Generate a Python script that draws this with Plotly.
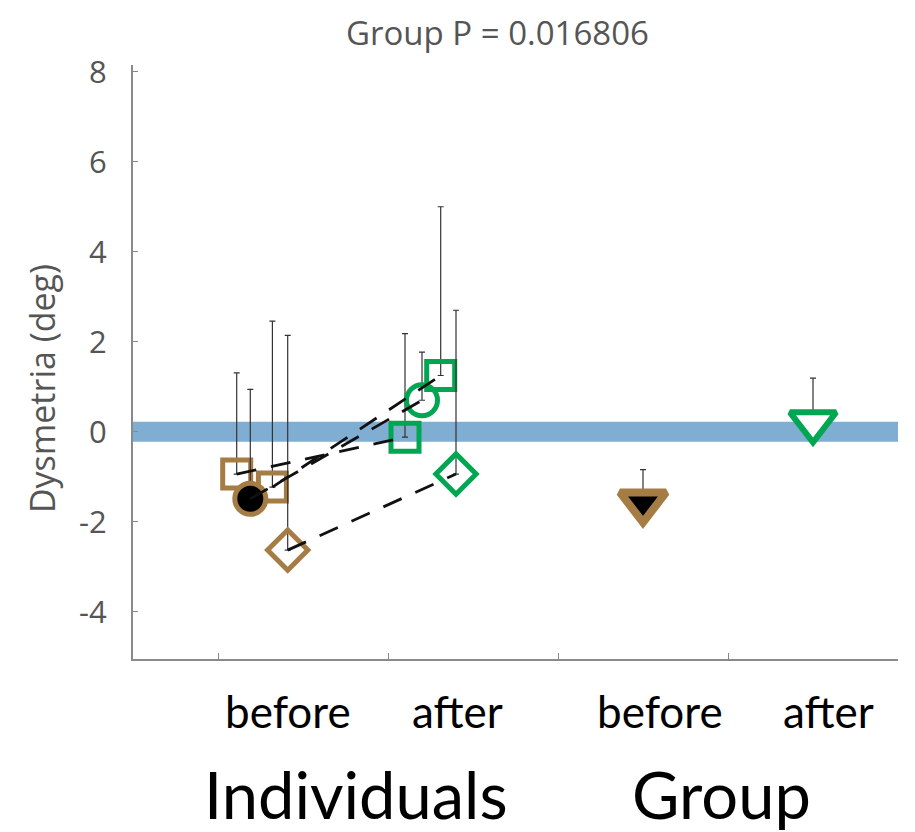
import plotly.graph_objects as go

# ---- data ----
subjects = ["S1", "S2", "S3", "S4"]
symbols = ["square", "circle", "square", "diamond"]
before_x = [0.61, 0.69, 0.82, 0.91]
before_y = [-0.94, -1.49, -1.23, -2.63]
before_err = [2.25, 2.43, 3.69, 4.77]
after_x = [1.60, 1.70, 1.81, 1.90]
after_y = [-0.12, 0.70, 1.25, -0.94]
after_err = [2.30, 1.07, 3.75, 3.64]
group_x = [3.0, 4.0]
group_y = [-1.57, 0.21]
group_err = [0.73, 0.98]
x_ticks = [0.5, 1.5, 2.5, 3.5]
y_ticks = [-4, -2, 0, 2, 4, 6, 8]
y_tick_labels = ["-4", "-2", "0", "2", "4", "6", "8"]
cond_labels = ["before", "after", "before", "after"]
cond_label_x = [0.91, 1.906, 3.10, 4.09]
section_labels = ["Individuals", "Group"]
section_label_x = [1.31, 3.46]
title_text = "Group P = 0.016806"

BROWN = "#A67C45"
GREEN = "#00A651"
BAND = "#80ADD2"
ERR = "#333333"
CLEAR = "rgba(0,0,0,0)"

sizes = {"square": 28, "circle": 31, "diamond": 31}

fig = go.Figure()

# band at zero
fig.add_shape(type="rect", xref="x", yref="y", x0=0, x1=4.5, y0=-0.22, y1=0.22,
              fillcolor=BAND, line_width=0, layer="below")

def err(v):
    return dict(type="data", symmetric=False, array=[v], arrayminus=[0],
                color=ERR, thickness=1.2, width=3)

order = [0, 2, 3, 1]
for i in order:
    sym = symbols[i]
    fill_b = "black" if sym == "circle" else CLEAR
    fig.add_trace(go.Scatter(
        x=[before_x[i]], y=[before_y[i]], mode="markers",
        marker=dict(symbol=sym, size=sizes[sym], color=fill_b,
                    line=dict(color=BROWN, width=5)),
        error_y=err(before_err[i]), showlegend=False, name=subjects[i]))
for i in order:
    sym = symbols[i]
    fig.add_trace(go.Scatter(
        x=[after_x[i]], y=[after_y[i]], mode="markers",
        marker=dict(symbol=sym, size=sizes[sym], color=CLEAR,
                    line=dict(color=GREEN, width=5)),
        error_y=err(after_err[i]), showlegend=False, name=subjects[i]))

# dashed connecting lines
for i in range(len(subjects)):
    fig.add_trace(go.Scatter(
        x=[before_x[i], after_x[i]], y=[before_y[i], after_y[i]],
        mode="lines", line=dict(color="#111111", width=2.8, dash="20px,15px"),
        showlegend=False, hoverinfo="skip"))

# group markers
fig.add_trace(go.Scatter(
    x=[group_x[0]], y=[group_y[0]], mode="markers",
    marker=dict(symbol="triangle-down", size=40, color="black",
                line=dict(color=BROWN, width=8)),
    error_y=err(group_err[0]), showlegend=False))
fig.add_trace(go.Scatter(
    x=[group_x[1]], y=[group_y[1]], mode="markers",
    marker=dict(symbol="triangle-down", size=40, color="white",
                line=dict(color=GREEN, width=6)),
    error_y=err(group_err[1]), showlegend=False))

annotations = []
for t, x in zip(cond_labels, cond_label_x):
    annotations.append(dict(text=t, x=x, xref="x", y=-0.087, yref="paper",
                            showarrow=False, xanchor="center", yanchor="middle",
                            font=dict(family="Lato", size=44, color="black")))
for t, x in zip(section_labels, section_label_x):
    annotations.append(dict(text=t, x=x, xref="x", y=-0.228, yref="paper",
                            showarrow=False, xanchor="center", yanchor="middle",
                            font=dict(family="Lato", size=65, color="black")))
annotations.append(dict(text=title_text, x=0.477, xref="paper", y=1.055, yref="paper",
                        showarrow=False, xanchor="center", yanchor="middle",
                        font=dict(family="Open Sans", size=33, color="#555555")))
annotations.append(dict(text="Dysmetria (deg)", x=-0.119, xref="paper", y=0.456, yref="paper",
                        showarrow=False, textangle=-90, xanchor="center", yanchor="middle",
                        font=dict(family="Open Sans", size=34, color="#555555")))

fig.update_layout(
    width=907, height=824,
    margin=dict(l=125, r=17, t=57, b=173),
    paper_bgcolor="white", plot_bgcolor="white",
    annotations=annotations,
    xaxis=dict(range=[0, 4.5], tickvals=x_ticks, showticklabels=False,
               ticks="inside", ticklen=6, tickcolor="#888888",
               showline=True, linecolor="#8a8a8a", linewidth=2,
               showgrid=False, zeroline=False, fixedrange=True),
    yaxis=dict(range=[-5.05, 8.15], tickvals=y_ticks, ticktext=y_tick_labels,
               ticks="inside", ticklen=5, tickcolor="#888888",
               showline=True, linecolor="#8a8a8a", linewidth=2,
               showgrid=False, zeroline=False, ticklabelstandoff=18,
               tickfont=dict(family="Open Sans", size=31, color="#555555")),
)

fig.write_html("out.html")
